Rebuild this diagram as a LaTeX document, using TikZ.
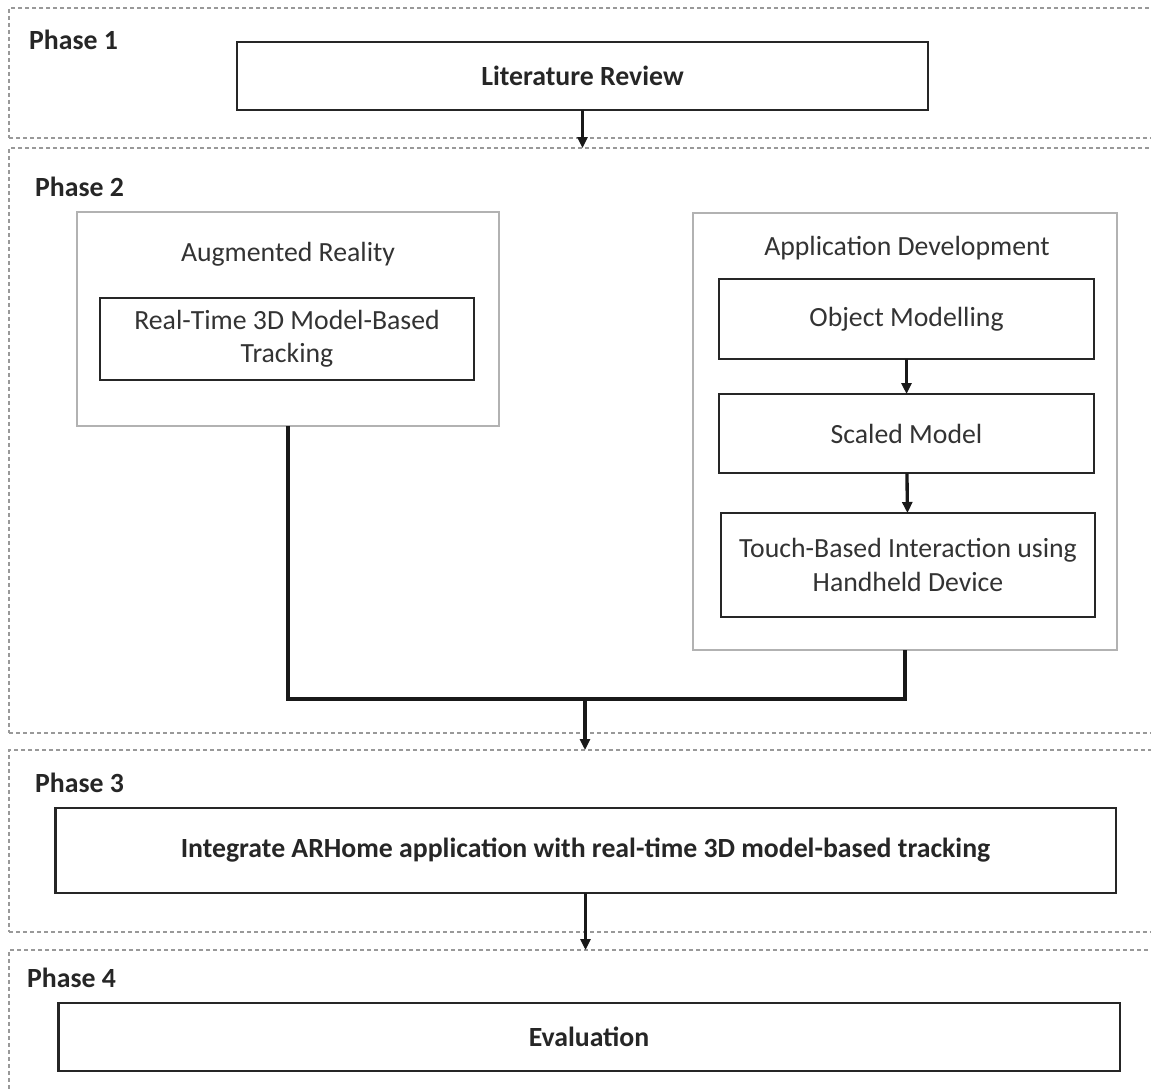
\documentclass[tikz,border=0pt]{standalone}
\usepackage{fontspec}
\setmainfont{Carlito}
\usetikzlibrary{positioning, calc, arrows.meta}

\begin{document}
\begin{tikzpicture}[x=0.02cm, y=-0.02cm,
            phase/.style={rectangle, draw=gray!80, line width=0.9pt, dash pattern=on 0.08cm off 0.06cm, inner sep=0pt, outer sep=0pt},
            tag/.style={anchor=west, font=\fontsize{15.8}{19}\selectfont\bfseries, text=black!85},
            % 太枠の工程ボックス
            task/.style={rectangle, draw=black!85, line width=1.6pt, outer sep=0pt, align=center, text=black!80, font=\fontsize{15.8}{19}\selectfont},
            mainstep/.style={task, font=\fontsize{15.8}{19}\selectfont\bfseries, text=black!85},
            group/.style={rectangle, draw=gray!60, line width=0.9pt, outer sep=0pt},
            grouptitle/.style={font=\fontsize{15.8}{19}\selectfont, text=black!80},
            line/.style={line width=1.9pt, black!90},
            arr/.style={line, -{Triangle[length=0.22cm, width=0.2cm]}}
        ]
            \useasboundingbox (0,0) rectangle (1151,1088);
            \clip (0,0) rectangle (1151,1088);

            % --- フェーズ枠 ---
            \node[phase, minimum width=23.12cm, minimum height=2.6cm] (ph1) at (587,73) {};
            \node[phase, minimum width=23.12cm, minimum height=11.7cm] (ph2) at (587,440.5) {};
            \node[phase, minimum width=23.12cm, minimum height=3.64cm] (ph3) at (587,841) {};
            \node[phase, minimum width=23.12cm, minimum height=3.0cm] (ph4) at (587,1025) {};

            \node[tag] (t1) at (23,40) {Phase 1};
            \node[tag] (t2) at (29,187) {Phase 2};
            \node[tag] (t3) at (29,783) {Phase 3};
            \node[tag] (t4) at (21,978) {Phase 4};

            % --- Phase 1 ---
            \node[mainstep, minimum width=13.82cm, minimum height=1.36cm] (lit) at (582.5,76) {Literature Review};

            % --- Phase 2 ---
            \node[group, minimum width=8.44cm, minimum height=4.28cm] (ar) at (288,319) {};
            \node[grouptitle] (artitle) at (288,254) {Augmented Reality};
            \node[task, minimum width=7.48cm, minimum height=1.64cm] (track) at (287,339) {Real-Time 3D Model-Based\\Tracking};

            \node[group, minimum width=8.48cm, minimum height=8.74cm] (app) at (905,431.5) {};
            \node[grouptitle] (apptitle) at (907,248) {Application Development};
            \node[task, minimum width=7.5cm, minimum height=1.6cm] (objmod) at (906.5,319) {Object Modelling};
            \node[task, minimum width=7.5cm, minimum height=1.58cm] (scaled) at (906.5,433.5) {Scaled Model};
            \node[task, minimum width=7.48cm, minimum height=2.08cm] (touch) at (908,565) {Touch-Based Interaction using\\Handheld Device};

            % --- Phase 3, 4 ---
            \node[mainstep, minimum width=21.22cm, minimum height=1.7cm] (integ) at (585.5,850.5) {Integrate ARHome application with real-time 3D model-based tracking};
            \node[mainstep, minimum width=21.24cm, minimum height=1.36cm] (eval) at (589,1037) {Evaluation};

            % --- 矢印 ---
            \draw[arr] (lit.south) -- (lit.south |- ph2.north);
            \draw[arr] (objmod) -- (scaled);
            \draw[arr] (scaled) -- (touch);

            \coordinate (join) at (585,699);
            \draw[line] (ar.south) |- (join) -| (app.south);
            \draw[arr] (join) -- (join |- ph3.north);

            \draw[arr] (integ.south) -- (integ.south |- ph4.north);
        \end{tikzpicture}
\end{document}
